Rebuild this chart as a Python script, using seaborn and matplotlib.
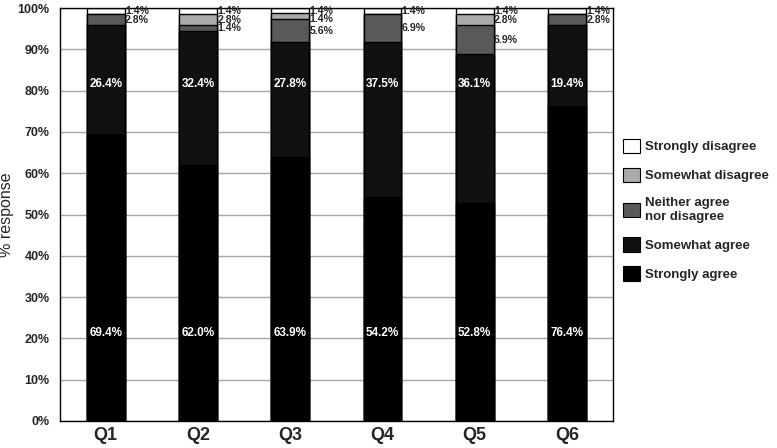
import numpy as np
import pandas as pd
import matplotlib
matplotlib.use('Agg')
import matplotlib.pyplot as plt
import seaborn as sns
from matplotlib.patches import Patch

# data (percent of responses), bottom to top of each bar
questions = ['Q1', 'Q2', 'Q3', 'Q4', 'Q5', 'Q6']
strongly_agree = [69.4, 62.0, 63.9, 54.2, 52.8, 76.4]
somewhat_agree = [26.4, 32.4, 27.8, 37.5, 36.1, 19.4]
neither = [2.8, 1.4, 5.6, 6.9, 6.9, 2.8]
somewhat_disagree = [0.0, 2.8, 1.4, 0.0, 2.8, 0.0]
strongly_disagree = [1.4, 1.4, 1.4, 1.4, 1.4, 1.4]

categories = ['Strongly agree', 'Somewhat agree', 'Neither agree\nnor disagree',
              'Somewhat disagree', 'Strongly disagree']
colors = ['#000000', '#111111', '#595959', '#ababab', '#ffffff']

sns.set_style('white')
plt.rcParams['font.family'] = ['Liberation Sans', 'DejaVu Sans']

df = pd.DataFrame({
    'question': questions,
    'Strongly agree': strongly_agree,
    'Somewhat agree': somewhat_agree,
    'Neither agree\nnor disagree': neither,
    'Somewhat disagree': somewhat_disagree,
    'Strongly disagree': strongly_disagree,
})
cum = df[categories].cumsum(axis=1)

fig = plt.figure(figsize=(7.77, 4.48), dpi=100)
ax = fig.add_axes([0.0766, 0.0603, 0.7124, 0.9217])

bar_w = 0.41
# stacked bars: draw cumulative totals from the top layer down
for cat, col in reversed(list(zip(categories, colors))):
    sns.barplot(x=df['question'], y=cum[cat], color=col, width=bar_w,
                edgecolor='black', linewidth=1, saturation=1, ax=ax, zorder=2)

ax.set_ylim(0, 100)
ax.set_xlim(-0.5, 5.5)
ax.set_yticks(np.arange(0, 101, 10))
ax.set_yticklabels([f'{v}%' for v in range(0, 101, 10)], fontsize=9, fontweight='bold')
ax.set_xticks(range(len(questions)))
ax.set_xticklabels(questions, fontsize=13, fontweight='bold')
ax.tick_params(axis='y', length=0, pad=7)
ax.tick_params(axis='x', length=0, pad=4)
ax.yaxis.grid(True, color='#a6a6a6', linewidth=1)
ax.set_axisbelow(True)
ax.set_xlabel('')
ax.set_ylabel('% response', fontsize=11.5)
ax.yaxis.set_label_coords(-0.083, 0.5)
for s in ax.spines.values():
    s.set_visible(True)
    s.set_color('black')
    s.set_linewidth(1)

# labels inside the two large segments
for i in range(len(questions)):
    ax.text(i, 21.3, f'{strongly_agree[i]:.1f}%', color='white', fontsize=8.5,
            fontweight='bold', ha='center', va='center', zorder=5)
    ax.text(i, 81.5, f'{somewhat_agree[i]:.1f}%', color='white', fontsize=8.5,
            fontweight='bold', ha='center', va='center', zorder=5)

# small segments labelled beside the bar, pushed apart where they crowd
for i in range(len(questions)):
    prev = None
    for cat in ['Strongly disagree', 'Somewhat disagree', 'Neither agree\nnor disagree']:
        v = df.loc[i, cat]
        if v <= 0:
            continue
        center = cum.loc[i, cat] - v / 2
        y = center if prev is None else min(center, prev - 2.1)
        ax.text(i + bar_w / 2 + 0.005, y, f'{v:.1f}%', fontsize=7.6, fontweight='bold',
                ha='left', va='center', zorder=5)
        prev = y

handles = [Patch(facecolor=c, edgecolor='black', linewidth=0.8)
           for c in reversed(colors)]
fig.legend(handles, list(reversed(categories)), loc='upper left',
           bbox_to_anchor=(0.792, 0.708), frameon=False,
           prop={'size': 9.5, 'weight': 'bold'}, handlelength=1.25, handleheight=1.3,
           handletextpad=0.4, labelspacing=1.1, borderaxespad=0.2)

plt.savefig('out.png', dpi=100)
